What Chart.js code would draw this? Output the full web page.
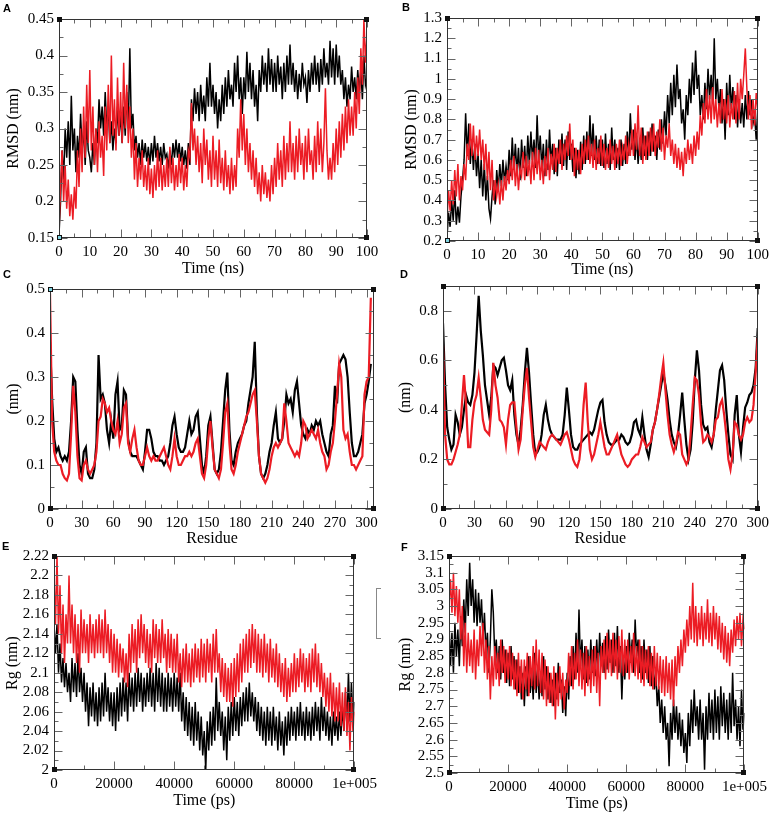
<!DOCTYPE html>
<html>
<head>
<meta charset="utf-8">
<script src="https://cdn.jsdelivr.net/npm/chart.js@4.4.1/dist/chart.umd.min.js"></script>
<style>
  body { margin: 0; background: #fff; }
  #fig { position: relative; width: 774px; height: 813px; overflow: hidden; }
  #fig canvas { position: absolute; }
  .tag { position: absolute; font: bold 11px/11px "Liberation Sans", Arial, sans-serif; color: #000; }
  .bracket { position: absolute; border: 1px solid #888; border-right: none; }
</style>
</head>
<body>
<div id="fig"></div>
<script>
// sampling grids (x categories)
const TIME_NS = Array.from({length: 201}, (_, i) => i * 0.5);
const TIME_PS = Array.from({length: 201}, (_, i) => i * 500);
const RES_C = Array.from({length: 153}, (_, i) => i * 2);
const RES_D = Array.from({length: 151}, (_, i) => i * 2);

// tick values and labels
const NS_TICKS = [0, 10, 20, 30, 40, 50, 60, 70, 80, 90, 100];
const NS_LABELS = ['0', '10', '20', '30', '40', '50', '60', '70', '80', '90', '100'];
const RES_TICKS = [0, 30, 60, 90, 120, 150, 180, 210, 240, 270, 300];
const RES_LABELS = ['0', '30', '60', '90', '120', '150', '180', '210', '240', '270', '300'];
const PS_TICKS = [0, 20000, 40000, 60000, 80000, 100000];
const PS_LABELS = ['0', '20000', '40000', '60000', '80000', '1e+005'];
const A_Y_TICKS = [0.15, 0.2, 0.25, 0.3, 0.35, 0.4, 0.45];
const A_Y_LABELS = ['0.15', '0.2', '0.25', '0.3', '0.35', '0.4', '0.45'];
const B_Y_TICKS = [0.2, 0.3, 0.4, 0.5, 0.6, 0.7, 0.8, 0.9, 1, 1.1, 1.2, 1.3];
const B_Y_LABELS = ['0.2', '0.3', '0.4', '0.5', '0.6', '0.7', '0.8', '0.9', '1', '1.1', '1.2', '1.3'];
const C_Y_TICKS = [0, 0.1, 0.2, 0.3, 0.4, 0.5];
const C_Y_LABELS = ['0', '0.1', '0.2', '0.3', '0.4', '0.5'];
const D_Y_TICKS = [0, 0.2, 0.4, 0.6, 0.8];
const D_Y_LABELS = ['0', '0.2', '0.4', '0.6', '0.8'];
const E_Y_TICKS = [2, 2.02, 2.04, 2.06, 2.08, 2.1, 2.12, 2.14, 2.16, 2.18, 2.2, 2.22];
const E_Y_LABELS = ['2', '2.02', '2.04', '2.06', '2.08', '2.1', '2.12', '2.14', '2.16', '2.18', '2.2', '2.22'];
const F_Y_TICKS = [2.5, 2.55, 2.6, 2.65, 2.7, 2.75, 2.8, 2.85, 2.9, 2.95, 3, 3.05, 3.1, 3.15];
const F_Y_LABELS = ['2.5', '2.55', '2.6', '2.65', '2.7', '2.75', '2.8', '2.85', '2.9', '2.95', '3', '3.05', '3.1', '3.15'];

// A: RMSD (nm) vs time (ns)
const A_BLACK = [
  0.155, 0.2, 0.27, 0.23, 0.3, 0.26, 0.31, 0.25, 0.345, 0.27,
  0.3, 0.24, 0.29, 0.26, 0.32, 0.27, 0.3, 0.25, 0.31, 0.27,
  0.26, 0.24, 0.28, 0.25, 0.3, 0.28, 0.34, 0.3, 0.33, 0.29,
  0.35, 0.3, 0.33, 0.28, 0.31, 0.27, 0.3, 0.28, 0.33, 0.29,
  0.32, 0.28, 0.33, 0.29, 0.35, 0.3, 0.41, 0.3, 0.32, 0.27,
  0.29, 0.26, 0.28, 0.25, 0.285, 0.26, 0.28, 0.255, 0.275, 0.25,
  0.28, 0.255, 0.29, 0.26, 0.28, 0.255, 0.275, 0.25, 0.28, 0.26,
  0.265, 0.245, 0.27, 0.25, 0.28, 0.26, 0.285, 0.26, 0.28, 0.255,
  0.275, 0.25, 0.27, 0.245, 0.28, 0.25, 0.34, 0.31, 0.355, 0.32,
  0.35, 0.31, 0.36, 0.32, 0.345, 0.31, 0.37, 0.33, 0.39, 0.33,
  0.36, 0.32, 0.35, 0.3, 0.34, 0.31, 0.36, 0.32, 0.37, 0.33,
  0.38, 0.34, 0.36, 0.33, 0.39, 0.35, 0.4, 0.34, 0.37, 0.32,
  0.37, 0.34, 0.405, 0.35, 0.39, 0.34, 0.38, 0.33, 0.36, 0.31,
  0.38, 0.35, 0.4, 0.36, 0.39, 0.35, 0.41, 0.36, 0.395, 0.35,
  0.39, 0.35, 0.4, 0.36, 0.385, 0.34, 0.39, 0.35, 0.4, 0.36,
  0.415, 0.36, 0.39, 0.35, 0.38, 0.34, 0.375, 0.35, 0.39, 0.36,
  0.37, 0.335, 0.38, 0.35, 0.39, 0.36, 0.4, 0.36, 0.39, 0.35,
  0.395, 0.36, 0.41, 0.37, 0.39, 0.36, 0.42, 0.37, 0.41, 0.36,
  0.415, 0.37, 0.4, 0.36, 0.38, 0.34, 0.37, 0.33, 0.36, 0.34,
  0.385, 0.35, 0.37, 0.34, 0.38, 0.35, 0.38, 0.34, 0.4, 0.36,
  0.37
];
const A_RED = [
  0.16, 0.22, 0.27, 0.2, 0.25, 0.19, 0.23, 0.18, 0.21, 0.175,
  0.22, 0.19, 0.27, 0.22, 0.3, 0.24, 0.33, 0.26, 0.36, 0.28,
  0.38, 0.27, 0.33, 0.25, 0.3, 0.24, 0.31, 0.26, 0.29, 0.235,
  0.33, 0.27, 0.36, 0.28, 0.4, 0.29, 0.34, 0.27, 0.37, 0.29,
  0.35, 0.28, 0.39, 0.3, 0.36, 0.28, 0.33, 0.26, 0.3, 0.23,
  0.28, 0.22, 0.26, 0.23, 0.27, 0.22, 0.25, 0.215, 0.26, 0.21,
  0.245, 0.205, 0.25, 0.215, 0.27, 0.22, 0.26, 0.215, 0.25, 0.22,
  0.26, 0.22, 0.275, 0.225, 0.26, 0.215, 0.25, 0.22, 0.265, 0.225,
  0.26, 0.215, 0.25, 0.22, 0.27, 0.26, 0.335, 0.27, 0.3, 0.25,
  0.29, 0.24, 0.28, 0.225, 0.3, 0.25, 0.285, 0.23, 0.27, 0.22,
  0.29, 0.23, 0.27, 0.22, 0.285, 0.225, 0.26, 0.215, 0.27, 0.22,
  0.25, 0.21, 0.26, 0.215, 0.25, 0.22, 0.3, 0.26, 0.34, 0.27,
  0.32, 0.25, 0.3, 0.24, 0.28, 0.23, 0.27, 0.22, 0.26, 0.21,
  0.24, 0.2, 0.25, 0.21, 0.24, 0.205, 0.23, 0.2, 0.25, 0.21,
  0.26, 0.22, 0.28, 0.23, 0.27, 0.22, 0.29, 0.23, 0.28, 0.24,
  0.31, 0.24, 0.28, 0.23, 0.29, 0.24, 0.3, 0.25, 0.28, 0.23,
  0.29, 0.24, 0.3, 0.25, 0.27, 0.23, 0.29, 0.24, 0.31, 0.25,
  0.3, 0.24, 0.28, 0.355, 0.27, 0.23, 0.26, 0.23, 0.28, 0.24,
  0.3, 0.25, 0.31, 0.26, 0.32, 0.27, 0.33, 0.28, 0.34, 0.29,
  0.33, 0.29, 0.35, 0.3, 0.37, 0.32, 0.41, 0.36, 0.45, 0.39,
  0.43
];

// B: RMSD (nm) vs time (ns)
const B_BLACK = [
  0.22, 0.34, 0.27, 0.4, 0.3, 0.45, 0.28, 0.37, 0.29, 0.42,
  0.5, 0.6, 0.83, 0.62, 0.78, 0.58, 0.7, 0.55, 0.68, 0.52,
  0.63, 0.46, 0.6, 0.42, 0.58, 0.4, 0.52, 0.36, 0.31, 0.42,
  0.5, 0.38, 0.55, 0.45, 0.58, 0.47, 0.6, 0.49, 0.57, 0.5,
  0.65, 0.52, 0.71, 0.55, 0.68, 0.53, 0.66, 0.5, 0.7, 0.56,
  0.67, 0.52, 0.72, 0.58, 0.74, 0.6, 0.7, 0.56, 0.82, 0.6,
  0.72, 0.56, 0.68, 0.52, 0.7, 0.55, 0.75, 0.58, 0.68, 0.53,
  0.66, 0.52, 0.7, 0.58, 0.73, 0.57, 0.7, 0.55, 0.74, 0.6,
  0.68, 0.54, 0.66, 0.51, 0.65, 0.53, 0.69, 0.55, 0.72, 0.58,
  0.74, 0.6, 0.82, 0.62, 0.78, 0.6, 0.72, 0.58, 0.7, 0.57,
  0.7, 0.56, 0.73, 0.58, 0.68, 0.55, 0.76, 0.6, 0.7, 0.56,
  0.66, 0.55, 0.7, 0.57, 0.68, 0.58, 0.74, 0.62, 0.83, 0.65,
  0.75, 0.6, 0.72, 0.58, 0.7, 0.6, 0.76, 0.62, 0.72, 0.6,
  0.74, 0.62, 0.78, 0.64, 0.72, 0.6, 0.75, 0.65, 0.8, 0.68,
  0.84, 0.72, 0.92, 0.78, 0.98, 0.82, 1.02, 0.86, 1.07, 0.9,
  0.95, 0.78, 0.85, 0.7, 0.92, 0.82, 1.0, 0.88, 1.08, 0.92,
  1.14, 0.95, 1.02, 0.82, 0.92, 0.8, 0.98, 0.85, 1.05, 0.9,
  1.02, 0.88, 1.2, 0.9, 1.0, 0.85, 0.95, 0.78, 0.9, 0.7,
  0.98, 0.82, 1.02, 0.85, 0.96, 0.8, 0.92, 0.76, 0.9, 0.78,
  0.88, 0.76, 0.92, 0.8, 0.94, 0.82, 0.9, 0.78, 0.82, 0.7,
  0.85
];
const B_RED = [
  0.3, 0.45, 0.35, 0.5, 0.38, 0.55, 0.42, 0.58, 0.4, 0.52,
  0.45, 0.58, 0.5, 0.68, 0.6, 0.78, 0.62, 0.77, 0.6, 0.72,
  0.62, 0.75, 0.6, 0.7, 0.55, 0.68, 0.5, 0.64, 0.45, 0.6,
  0.4, 0.5, 0.42, 0.48, 0.38, 0.5, 0.4, 0.52, 0.45, 0.55,
  0.48, 0.6, 0.5, 0.62, 0.47, 0.58, 0.45, 0.56, 0.52, 0.64,
  0.5, 0.62, 0.52, 0.6, 0.48, 0.64, 0.5, 0.66, 0.53, 0.65,
  0.5, 0.6, 0.48, 0.62, 0.52, 0.66, 0.5, 0.63, 0.55, 0.68,
  0.54, 0.66, 0.58, 0.7, 0.55, 0.68, 0.6, 0.72, 0.62, 0.78,
  0.6, 0.7, 0.52, 0.66, 0.55, 0.65, 0.53, 0.68, 0.58, 0.7,
  0.6, 0.72, 0.58, 0.68, 0.56, 0.7, 0.55, 0.66, 0.58, 0.72,
  0.57, 0.68, 0.55, 0.66, 0.56, 0.7, 0.58, 0.67, 0.55, 0.68,
  0.58, 0.7, 0.57, 0.66, 0.6, 0.72, 0.58, 0.68, 0.62, 0.75,
  0.62, 0.78, 0.65, 0.87, 0.62, 0.76, 0.58, 0.72, 0.6, 0.74,
  0.62, 0.76, 0.64, 0.78, 0.62, 0.74, 0.66, 0.8, 0.64, 0.76,
  0.6, 0.72, 0.66, 0.78, 0.62, 0.7, 0.58, 0.68, 0.56, 0.66,
  0.55, 0.64, 0.52, 0.66, 0.58, 0.7, 0.6, 0.68, 0.58, 0.72,
  0.62, 0.74, 0.65, 0.82, 0.72, 0.88, 0.78, 0.95, 0.8, 0.92,
  0.78, 0.96, 0.8, 0.9, 0.76, 0.88, 0.78, 0.95, 0.8, 0.9,
  0.78, 0.92, 0.76, 0.88, 0.8, 0.94, 0.78, 0.98, 0.8, 1.0,
  0.9, 1.02, 1.15, 0.95, 0.8, 0.92, 0.75, 0.9, 0.77, 0.93,
  0.85
];

// C: RMSF (nm) vs residue
const C_BLACK = [
  0.38, 0.25, 0.16, 0.13, 0.14, 0.12, 0.11, 0.12, 0.11, 0.13,
  0.2, 0.3, 0.29, 0.18, 0.1, 0.08, 0.13, 0.14, 0.08, 0.07,
  0.07, 0.09, 0.15, 0.35, 0.25, 0.26, 0.24, 0.18, 0.15, 0.2,
  0.16, 0.26, 0.29, 0.18, 0.19, 0.27, 0.26, 0.16, 0.13, 0.12,
  0.12, 0.12, 0.11, 0.1, 0.09, 0.13, 0.18, 0.18, 0.16, 0.13,
  0.12, 0.12, 0.11, 0.11, 0.1, 0.11, 0.12, 0.15, 0.19, 0.21,
  0.17, 0.14, 0.13, 0.13, 0.14, 0.17, 0.2, 0.17, 0.18, 0.21,
  0.22, 0.16, 0.1, 0.08, 0.12, 0.19, 0.21, 0.15, 0.09, 0.08,
  0.09, 0.13, 0.2, 0.27, 0.31, 0.18, 0.11, 0.1, 0.13, 0.15,
  0.16, 0.17, 0.19, 0.2, 0.24, 0.27, 0.3, 0.38, 0.22, 0.12,
  0.08, 0.07, 0.08, 0.1, 0.13, 0.15, 0.19, 0.22, 0.16, 0.15,
  0.16, 0.2, 0.26, 0.24, 0.25, 0.22, 0.27, 0.29, 0.24, 0.19,
  0.17, 0.16, 0.18, 0.17, 0.19, 0.18, 0.2, 0.19, 0.2, 0.17,
  0.15, 0.13, 0.12, 0.17, 0.19, 0.28, 0.24, 0.33, 0.34, 0.35,
  0.34, 0.3, 0.22, 0.15, 0.12, 0.12, 0.13, 0.15, 0.17, 0.24,
  0.26, 0.29, 0.33
];
const C_RED = [
  0.49, 0.2, 0.13, 0.11, 0.1, 0.1, 0.08, 0.07, 0.065, 0.08,
  0.17, 0.28, 0.22, 0.12, 0.07, 0.065, 0.1, 0.11, 0.09, 0.08,
  0.09, 0.1, 0.13, 0.2, 0.21, 0.25, 0.24, 0.22, 0.23, 0.2,
  0.18, 0.17, 0.2, 0.15, 0.17, 0.23, 0.24, 0.15, 0.13, 0.16,
  0.18, 0.14, 0.11, 0.1, 0.1, 0.12, 0.14, 0.12, 0.11, 0.12,
  0.11, 0.11, 0.12, 0.13, 0.14, 0.12, 0.1, 0.09, 0.12, 0.16,
  0.12, 0.1, 0.1, 0.11, 0.12, 0.12, 0.13, 0.12, 0.13, 0.15,
  0.16, 0.12, 0.08, 0.07, 0.1, 0.16, 0.2, 0.14, 0.09, 0.08,
  0.07, 0.09, 0.15, 0.22, 0.24, 0.15, 0.09, 0.08, 0.1, 0.13,
  0.15, 0.17, 0.19, 0.21, 0.22, 0.24, 0.26, 0.27, 0.2, 0.12,
  0.08, 0.07, 0.06, 0.07, 0.09, 0.12, 0.14, 0.15, 0.14, 0.15,
  0.16, 0.24, 0.2, 0.15, 0.14, 0.13, 0.12, 0.13, 0.12, 0.15,
  0.2, 0.19, 0.16, 0.17, 0.18, 0.17, 0.16, 0.18, 0.15, 0.13,
  0.12, 0.09, 0.1, 0.13, 0.15, 0.2, 0.26, 0.33, 0.3, 0.18,
  0.16, 0.17, 0.13, 0.1, 0.1, 0.09, 0.1, 0.11, 0.12, 0.26,
  0.29, 0.3, 0.48
];

// D: RMSF (nm) vs residue
const D_BLACK = [
  0.75, 0.5, 0.33, 0.28, 0.24, 0.26, 0.38, 0.35, 0.3, 0.33,
  0.4, 0.46, 0.43, 0.42, 0.46, 0.55, 0.7, 0.86, 0.72, 0.62,
  0.5, 0.44, 0.38, 0.45, 0.58, 0.57, 0.54, 0.57, 0.6, 0.61,
  0.56, 0.5, 0.48, 0.52, 0.38, 0.3, 0.26, 0.32, 0.42, 0.55,
  0.65, 0.55, 0.42, 0.3, 0.22, 0.23, 0.25, 0.3, 0.38, 0.42,
  0.36, 0.32, 0.3, 0.29, 0.28, 0.28, 0.28, 0.3, 0.38, 0.49,
  0.4, 0.3, 0.25, 0.24, 0.24, 0.26, 0.27, 0.28, 0.29, 0.3,
  0.31, 0.3, 0.32, 0.36, 0.4, 0.43, 0.44, 0.35, 0.3, 0.27,
  0.26, 0.26, 0.27, 0.28, 0.28, 0.3, 0.29, 0.27, 0.26, 0.27,
  0.3, 0.35, 0.36, 0.32, 0.3, 0.37, 0.3, 0.24, 0.21, 0.26,
  0.32, 0.35, 0.4, 0.45, 0.5, 0.55, 0.5, 0.44, 0.36, 0.3,
  0.27, 0.25, 0.3, 0.38, 0.47, 0.36, 0.26, 0.2, 0.24, 0.35,
  0.52, 0.64, 0.56, 0.42, 0.34, 0.32, 0.33, 0.27, 0.25, 0.3,
  0.4, 0.48, 0.56, 0.58, 0.52, 0.4, 0.3, 0.22, 0.2, 0.38,
  0.46, 0.3, 0.23, 0.33, 0.41, 0.43, 0.46, 0.47, 0.5, 0.57,
  0.73
];
const D_RED = [
  0.66, 0.3, 0.2, 0.18, 0.18, 0.2, 0.23, 0.26, 0.3, 0.42,
  0.54, 0.42, 0.25, 0.25, 0.36, 0.43, 0.46, 0.53, 0.45, 0.36,
  0.32, 0.31, 0.3, 0.4, 0.59, 0.5, 0.45, 0.36, 0.35, 0.33,
  0.26, 0.36, 0.42, 0.43, 0.43, 0.33, 0.24, 0.28, 0.4, 0.5,
  0.57, 0.45, 0.35, 0.25, 0.21, 0.24, 0.27, 0.26, 0.25, 0.24,
  0.27, 0.29, 0.3, 0.29, 0.28, 0.27, 0.26, 0.28, 0.3, 0.31,
  0.28, 0.24, 0.2, 0.18, 0.17, 0.2, 0.28, 0.42, 0.51, 0.35,
  0.24, 0.2, 0.22, 0.26, 0.3, 0.35, 0.3, 0.25, 0.22, 0.22,
  0.24, 0.26, 0.28, 0.3, 0.26, 0.22, 0.2, 0.18, 0.17, 0.18,
  0.2, 0.21, 0.22, 0.22, 0.25, 0.29, 0.27, 0.25, 0.26, 0.27,
  0.32, 0.35, 0.4, 0.46, 0.53, 0.59, 0.48, 0.38, 0.3, 0.26,
  0.23, 0.26, 0.31, 0.3, 0.22, 0.2, 0.18, 0.2, 0.3, 0.42,
  0.53, 0.52, 0.46, 0.34, 0.27, 0.28, 0.3, 0.29, 0.27, 0.3,
  0.36, 0.37, 0.42, 0.44, 0.38, 0.3, 0.2, 0.16, 0.22, 0.35,
  0.34, 0.3, 0.28, 0.3, 0.35, 0.37, 0.35, 0.36, 0.42, 0.55,
  0.69
];

// E: Rg (nm) vs time (ps)
const E_BLACK = [
  2.15, 2.12, 2.15, 2.1, 2.13, 2.09, 2.115, 2.085, 2.11, 2.08,
  2.1, 2.07, 2.115, 2.08, 2.11, 2.075, 2.12, 2.08, 2.105, 2.07,
  2.1, 2.06, 2.09, 2.045, 2.085, 2.055, 2.09, 2.05, 2.08, 2.045,
  2.085, 2.05, 2.09, 2.055, 2.1, 2.06, 2.085, 2.05, 2.08, 2.045,
  2.08, 2.04, 2.085, 2.05, 2.09, 2.055, 2.095, 2.06, 2.09, 2.05,
  2.1, 2.065, 2.095, 2.06, 2.1, 2.065, 2.105, 2.07, 2.1, 2.06,
  2.095, 2.065, 2.1, 2.07, 2.105, 2.065, 2.1, 2.06, 2.11, 2.07,
  2.105, 2.065, 2.1, 2.06, 2.095, 2.06, 2.1, 2.065, 2.095, 2.06,
  2.1, 2.065, 2.095, 2.06, 2.1, 2.05, 2.08, 2.04, 2.075, 2.035,
  2.07, 2.03, 2.065, 2.025, 2.07, 2.03, 2.06, 2.02, 2.055, 2.015,
  2.04, 2.0, 2.05, 2.02, 2.06, 2.025, 2.065, 2.03, 2.095, 2.04,
  2.07, 2.035, 2.06, 2.02, 2.055, 2.01, 2.065, 2.03, 2.07, 2.035,
  2.075, 2.04, 2.07, 2.035, 2.075, 2.045, 2.08, 2.05, 2.085, 2.05,
  2.09, 2.055, 2.08, 2.05, 2.075, 2.04, 2.07, 2.035, 2.065, 2.03,
  2.06, 2.025, 2.065, 2.03, 2.06, 2.025, 2.065, 2.03, 2.055, 2.02,
  2.06, 2.025, 2.05, 2.015, 2.055, 2.025, 2.06, 2.03, 2.065, 2.035,
  2.06, 2.03, 2.065, 2.035, 2.07, 2.035, 2.06, 2.03, 2.065, 2.035,
  2.06, 2.03, 2.065, 2.035, 2.07, 2.04, 2.065, 2.03, 2.075, 2.04,
  2.065, 2.035, 2.06, 2.03, 2.055, 2.025, 2.06, 2.035, 2.055, 2.03,
  2.06, 2.035, 2.065, 2.04, 2.08, 2.045, 2.1, 2.05, 2.09, 2.05,
  2.07
];
const E_RED = [
  2.2, 2.15, 2.22, 2.14, 2.19, 2.12, 2.17, 2.11, 2.16, 2.13,
  2.2, 2.13, 2.17, 2.12, 2.16, 2.11, 2.15, 2.1, 2.165, 2.12,
  2.155, 2.12, 2.15, 2.11, 2.16, 2.12, 2.15, 2.115, 2.155, 2.12,
  2.16, 2.12, 2.155, 2.115, 2.165, 2.12, 2.15, 2.11, 2.145, 2.1,
  2.14, 2.1, 2.135, 2.095, 2.13, 2.1, 2.125, 2.09, 2.12, 2.085,
  2.14, 2.1, 2.15, 2.11, 2.145, 2.1, 2.155, 2.115, 2.16, 2.12,
  2.15, 2.11, 2.145, 2.105, 2.14, 2.1, 2.155, 2.115, 2.15, 2.11,
  2.145, 2.11, 2.155, 2.115, 2.14, 2.1, 2.145, 2.105, 2.14, 2.1,
  2.135, 2.1, 2.14, 2.09, 2.12, 2.085, 2.125, 2.09, 2.13, 2.09,
  2.12, 2.085, 2.125, 2.09, 2.13, 2.095, 2.125, 2.09, 2.135, 2.095,
  2.13, 2.09, 2.135, 2.1, 2.13, 2.09, 2.14, 2.1, 2.145, 2.1,
  2.12, 2.08, 2.115, 2.075, 2.11, 2.07, 2.105, 2.07, 2.11, 2.065,
  2.115, 2.075, 2.12, 2.08, 2.13, 2.09, 2.135, 2.1, 2.14, 2.1,
  2.145, 2.105, 2.15, 2.11, 2.145, 2.1, 2.14, 2.1, 2.135, 2.095,
  2.14, 2.1, 2.13, 2.09, 2.135, 2.095, 2.125, 2.09, 2.13, 2.085,
  2.12, 2.08, 2.11, 2.075, 2.115, 2.07, 2.105, 2.075, 2.11, 2.08,
  2.12, 2.08, 2.115, 2.085, 2.125, 2.09, 2.12, 2.08, 2.115, 2.085,
  2.12, 2.08, 2.125, 2.09, 2.13, 2.085, 2.12, 2.08, 2.11, 2.075,
  2.1, 2.065, 2.095, 2.06, 2.1, 2.055, 2.09, 2.05, 2.085, 2.05,
  2.09, 2.045, 2.08, 2.04, 2.085, 2.035, 2.07, 2.02, 2.075, 2.04,
  2.06
];

// F: Rg (nm) vs time (ps)
const F_BLACK = [
  2.95, 2.82, 2.92, 2.8, 2.95, 2.85, 2.93, 2.82, 2.97, 2.88,
  3.02, 2.92, 3.08, 2.97, 3.13, 3.0, 3.08, 2.95, 3.05, 2.94,
  3.04, 2.95, 3.02, 2.9, 2.98, 2.86, 2.92, 2.8, 2.9, 3.05,
  2.98, 2.85, 2.9, 2.8, 2.88, 2.78, 2.9, 2.8, 2.87, 2.77,
  2.86, 2.76, 2.88, 2.78, 2.85, 2.75, 2.84, 2.74, 2.82, 2.72,
  2.8, 2.7, 2.82, 2.73, 2.85, 2.74, 2.8, 2.72, 2.86, 2.74,
  2.82, 2.72, 2.8, 2.73, 2.85, 2.75, 2.82, 2.72, 2.8, 2.71,
  2.78, 2.7, 2.8, 2.72, 2.83, 2.74, 2.78, 2.68, 2.76, 2.67,
  2.8, 2.72, 2.85, 2.76, 2.88, 2.78, 2.92, 2.8, 2.99, 2.82,
  2.9, 2.78, 2.88, 2.77, 2.87, 2.78, 2.9, 2.8, 2.88, 2.79,
  2.9, 2.8, 2.92, 2.82, 2.89, 2.8, 2.91, 2.81, 2.93, 2.83,
  2.9, 2.8, 2.92, 2.82, 2.94, 2.8, 2.88, 2.72, 2.85, 2.78,
  2.88, 2.8, 2.92, 2.83, 2.9, 2.8, 2.96, 2.85, 2.9, 2.8,
  2.88, 2.78, 2.9, 2.8, 2.87, 2.77, 2.88, 2.76, 2.85, 2.75,
  2.8, 2.7, 2.76, 2.65, 2.72, 2.62, 2.7, 2.6, 2.65, 2.52,
  2.68, 2.6, 2.72, 2.62, 2.7, 2.6, 2.68, 2.58, 2.66, 2.56,
  2.62, 2.53, 2.68, 2.58, 2.72, 2.62, 2.75, 2.64, 2.7, 2.6,
  2.72, 2.6, 2.68, 2.51, 2.7, 2.6, 2.74, 2.62, 2.72, 2.6,
  2.75, 2.62, 2.73, 2.6, 2.76, 2.64, 2.74, 2.62, 2.72, 2.6,
  2.74, 2.62, 2.8, 2.64, 2.72, 2.6, 2.7, 2.58, 2.75, 2.63,
  2.68
];
const F_RED = [
  3.0, 3.08, 2.98, 3.1, 2.97, 3.06, 2.95, 3.05, 2.9, 3.0,
  2.82, 2.95, 2.8, 2.92, 2.82, 2.9, 2.8, 2.93, 2.78, 2.9,
  2.82, 2.94, 2.85, 2.95, 2.8, 2.9, 2.78, 2.88, 2.72, 2.85,
  2.76, 2.88, 2.78, 2.86, 2.76, 2.9, 2.8, 2.88, 2.77, 2.87,
  2.78, 2.88, 2.76, 2.86, 2.75, 2.84, 2.73, 2.86, 2.74, 2.84,
  2.72, 2.84, 2.75, 2.86, 2.73, 2.85, 2.76, 2.88, 2.75, 2.9,
  2.76, 2.87, 2.74, 2.86, 2.72, 2.84, 2.7, 2.82, 2.71, 2.8,
  2.7, 2.82, 2.66, 2.8, 2.7, 2.82, 2.72, 2.8, 2.69, 2.78,
  2.74, 2.86, 2.76, 2.88, 2.75, 2.86, 2.78, 2.9, 2.76, 2.87,
  2.75, 2.86, 2.73, 2.88, 2.76, 2.85, 2.74, 2.87, 2.76, 2.88,
  2.74, 2.86, 2.7, 2.88, 2.8, 2.9, 2.78, 2.92, 2.8, 2.9,
  2.79, 2.92, 2.8, 2.9, 2.78, 2.91, 2.8, 2.93, 2.79, 2.9,
  2.8, 2.9, 2.78, 2.88, 2.8, 2.92, 2.79, 2.88, 2.78, 2.9,
  2.77, 2.88, 2.76, 2.87, 2.78, 2.88, 2.76, 2.86, 2.75, 2.88,
  2.76, 2.86, 2.75, 2.85, 2.74, 2.84, 2.73, 2.85, 2.74, 2.83,
  2.72, 2.84, 2.7, 2.85, 2.76, 2.88, 2.8, 2.9, 2.82, 2.93,
  2.86, 2.96, 2.88, 3.0, 2.9, 3.07, 2.89, 3.0, 2.88, 2.98,
  2.9, 3.0, 2.88, 2.98, 2.9, 3.02, 2.89, 2.98, 2.88, 3.0,
  2.9, 2.98, 2.87, 2.97, 2.86, 2.95, 2.84, 2.94, 2.83, 2.92,
  2.82, 2.93, 2.86, 2.96, 2.88, 2.97, 2.9, 2.98, 2.88, 2.96,
  2.93
];

const BLACK = '#000000';
const RED = '#ec1c24';

Chart.defaults.font.family = '"Liberation Serif", "Times New Roman", serif';
Chart.defaults.color = '#000';

// Grace-style frame: box, inward ticks on all four sides, corner squares
const framePlugin = {
  id: 'frame',
  afterDraw(chart, args, o) {
    const {ctx, chartArea: a, scales: {x, y}} = chart;
    const L = Math.round(a.left) + 0.5, R = Math.round(a.right) - 0.5;
    const T = Math.round(a.top) + 0.5, B = Math.round(a.bottom) - 0.5;
    const line = (x1, y1, x2, y2) => { ctx.beginPath(); ctx.moveTo(x1, y1); ctx.lineTo(x2, y2); ctx.stroke(); };
    ctx.save();
    ctx.lineWidth = 1;
    ctx.strokeStyle = '#666';
    const xMaj = x.ticks.map(t => t.value);
    const yMaj = y.ticks.map(t => t.value);
    const xMin = xMaj.map(v => v + o.xMinor).filter(v => v < x.max - 1e-9);
    const yMin = yMaj.map(v => v + o.yMinor).filter(v => v < y.max - 1e-9);
    const xt = (vals, len) => vals.forEach(v => {
      const px = Math.round(x.getPixelForValue(v)) + 0.5;
      line(px, B, px, B - len); line(px, T, px, T + len);
    });
    const yt = (vals, len) => vals.forEach(v => {
      const py = Math.round(y.getPixelForValue(v)) + 0.5;
      line(L, py, L + len, py); line(R, py, R - len, py);
    });
    xt(xMaj, 8); xt(xMin, 4); yt(yMaj, 8); yt(yMin, 4);
    ctx.strokeStyle = '#333';
    ctx.strokeRect(L, T, R - L, B - T);
    ctx.fillStyle = '#111';
    [[L, T], [R, T], [L, B], [R, B]].forEach(([cx, cy]) => ctx.fillRect(cx - 2.5, cy - 2.5, 5, 5));
    if (o.cyan) {
      ctx.fillStyle = '#7fd3e0';
      ctx.fillRect(L - 1.5, (o.cyan === 'bl' ? B : T) - 1.5, 3, 3);
    }
    ctx.restore();
  }
};

const fig = document.getElementById('fig');

function makePanel(p) {
  const lh = 19.2;
  const left = Math.round(p.yTitleX - lh / 2);
  const top = p.plot.t - 14;
  const right = Math.min(774, p.plot.r + 24);
  const bottom = Math.round(p.xTitleY + lh / 2);
  const cv = document.createElement('canvas');
  cv.width = right - left;
  cv.height = bottom - top;
  cv.style.left = left + 'px';
  cv.style.top = top + 'px';
  fig.appendChild(cv);

  const mk = (ys, color) => ({
    data: p.xs.map((xv, i) => ({x: xv, y: ys[i]})),
    borderColor: color,
    borderWidth: p.lw,
    pointRadius: 0,
    tension: 0,
    fill: false
  });

  new Chart(cv, {
    type: 'line',
    data: { datasets: [mk(p.red, RED), mk(p.black, BLACK)] },
    options: {
      responsive: false,
      animation: false,
      events: [],
      layout: { padding: { top: p.plot.t - top, right: right - p.plot.r, left: 0, bottom: 0 } },
      plugins: {
        legend: { display: false },
        tooltip: { enabled: false },
        frame: { xMinor: p.xMinor, yMinor: p.yMinor, cyan: p.cyan }
      },
      scales: {
        x: {
          type: 'linear', min: p.xMin, max: p.xMax,
          afterBuildTicks: s => { s.ticks = p.xTicks.map(v => ({value: v})); },
          afterFit: s => { s.height = bottom - p.plot.b; },
          ticks: { autoSkip: false, maxRotation: 0, padding: 5, font: {size: 15}, callback: (v, i) => p.xLabels[i] },
          grid: { display: false, drawTicks: false },
          border: { display: false },
          title: { display: true, text: p.xTitle, font: {size: 16}, padding: 0 }
        },
        y: {
          type: 'linear', min: p.yMin, max: p.yMax,
          afterBuildTicks: s => { s.ticks = p.yTicks.map(v => ({value: v})); },
          afterFit: s => { s.width = p.plot.l - left; },
          ticks: { autoSkip: false, padding: 5, font: {size: 15}, callback: (v, i) => p.yLabels[i] },
          grid: { display: false, drawTicks: false },
          border: { display: false },
          title: { display: true, text: p.yTitle, font: {size: 16}, padding: 0 }
        }
      }
    },
    plugins: [framePlugin]
  });
}

const panels = [
  { plot: {l: 59, t: 19, r: 367, b: 238}, yTitleX: 13.5, xTitleY: 268,
    xTitle: 'Time (ns)', yTitle: 'RMSD (nm)', xs: TIME_NS, black: A_BLACK, red: A_RED, lw: 1.5,
    xMin: 0, xMax: 100, xTicks: NS_TICKS, xLabels: NS_LABELS, xMinor: 5,
    yMin: 0.15, yMax: 0.45, yTicks: A_Y_TICKS, yLabels: A_Y_LABELS, yMinor: 0.025, cyan: 'bl' },
  { plot: {l: 447, t: 18, r: 758, b: 241}, yTitleX: 411.5, xTitleY: 269,
    xTitle: 'Time (ns)', yTitle: 'RMSD (nm)', xs: TIME_NS, black: B_BLACK, red: B_RED, lw: 1.5,
    xMin: 0, xMax: 100, xTicks: NS_TICKS, xLabels: NS_LABELS, xMinor: 5,
    yMin: 0.2, yMax: 1.3, yTicks: B_Y_TICKS, yLabels: B_Y_LABELS, yMinor: 0.05, cyan: 'bl' },
  { plot: {l: 50, t: 289, r: 374, b: 509}, yTitleX: 14, xTitleY: 538,
    xTitle: 'Residue', yTitle: '(nm)', xs: RES_C, black: C_BLACK, red: C_RED, lw: 2.2,
    xMin: 0, xMax: 307, xTicks: RES_TICKS, xLabels: RES_LABELS, xMinor: 15,
    yMin: 0, yMax: 0.5, yTicks: C_Y_TICKS, yLabels: C_Y_LABELS, yMinor: 0.05, cyan: 'tl' },
  { plot: {l: 443, t: 286, r: 762, b: 509}, yTitleX: 406, xTitleY: 538,
    xTitle: 'Residue', yTitle: '(nm)', xs: RES_D, black: D_BLACK, red: D_RED, lw: 2.2,
    xMin: 0, xMax: 300, xTicks: RES_TICKS, xLabels: RES_LABELS, xMinor: 15,
    yMin: 0, yMax: 0.9, yTicks: D_Y_TICKS, yLabels: D_Y_LABELS, yMinor: 0.1 },
  { plot: {l: 54, t: 556, r: 358, b: 770}, yTitleX: 12.5, xTitleY: 800,
    xTitle: 'Time (ps)', yTitle: 'Rg (nm)', xs: TIME_PS, black: E_BLACK, red: E_RED, lw: 1.5,
    xMin: 0, xMax: 100000, xTicks: PS_TICKS, xLabels: PS_LABELS, xMinor: 10000,
    yMin: 2, yMax: 2.22, yTicks: E_Y_TICKS, yLabels: E_Y_LABELS, yMinor: 0.01 },
  { plot: {l: 449, t: 556, r: 748, b: 773}, yTitleX: 406, xTitleY: 803,
    xTitle: 'Time (ps)', yTitle: 'Rg (nm)', xs: TIME_PS, black: F_BLACK, red: F_RED, lw: 1.5,
    xMin: 0, xMax: 100000, xTicks: PS_TICKS, xLabels: PS_LABELS, xMinor: 10000,
    yMin: 2.5, yMax: 3.15, yTicks: F_Y_TICKS, yLabels: F_Y_LABELS, yMinor: 0.025 }
];
panels.forEach(makePanel);

// panel letters
[['A', 3, 3], ['B', 402, 2], ['C', 3, 269], ['D', 400, 269], ['E', 2, 541], ['F', 401, 542]].forEach(([t, x, y]) => {
  const d = document.createElement('div');
  d.className = 'tag';
  d.textContent = t;
  d.style.left = x + 'px';
  d.style.top = y + 'px';
  fig.appendChild(d);
});

// stray legend-box edge to the right of panel E
const br = document.createElement('div');
br.className = 'bracket';
br.style.cssText = 'left:376px;top:588px;width:4px;height:49px;';
fig.appendChild(br);
</script>
</body>
</html>
